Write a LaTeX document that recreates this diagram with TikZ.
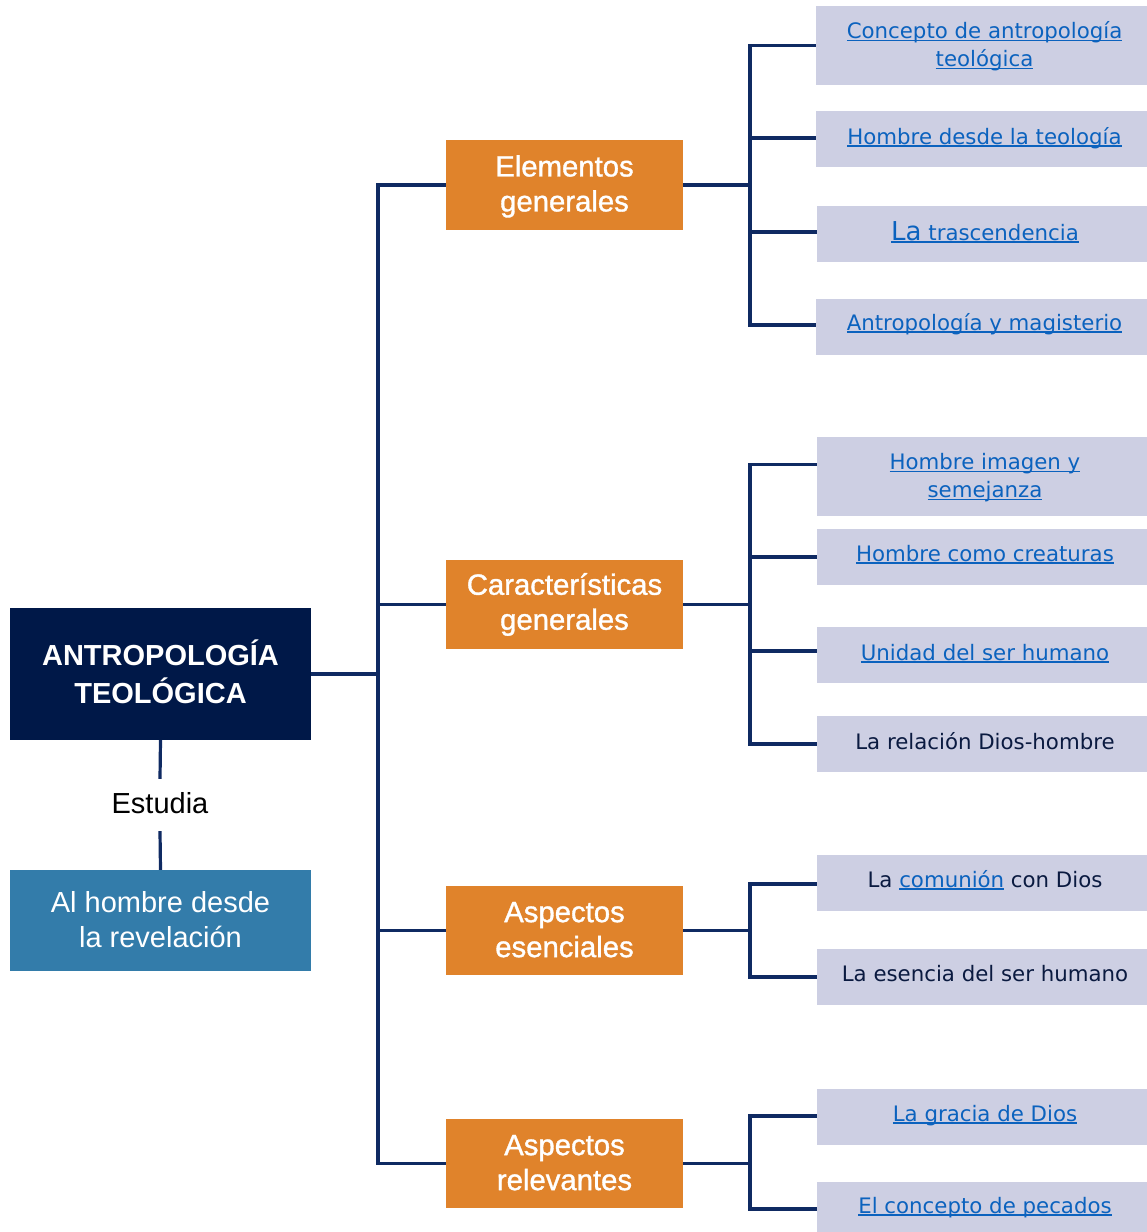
\documentclass[tikz,border=0pt]{standalone}
\usepackage{fontspec}
\setmainfont{Liberation Sans}
\newfontfamily\medf[FakeBold=1.2]{Liberation Sans}
\newfontfamily\boldf{Liberation Sans Bold}
\newfontfamily\verd{DejaVu Sans}
\definecolor{navy}{HTML}{001848}
\definecolor{linec}{HTML}{0F2A62}
\definecolor{orangeb}{HTML}{E0832B}
\definecolor{blueb}{HTML}{337CAA}
\definecolor{lav}{HTML}{CDCFE3}
\definecolor{linkc}{HTML}{0B62BE}
\definecolor{inkc}{HTML}{0A1A40}
\newcommand\lk[1]{{\color{linkc}\setbox0\hbox{#1}\rlap{\rule[-2.6pt]{\wd0}{1.3pt}}\box0}}
\newcommand\rowt[1]{\mbox{\kern6pt #1}}
\newcommand\upd[1]{\rule[-#1]{0pt}{#1}}
\newcommand\dnd[1]{\rule{0pt}{#1}}
\tikzset{
  conn/.style={draw=linec,line width=3.2pt},
  rootbox/.style={fill=navy,text=white,inner sep=0pt,minimum width=301pt,minimum height=132pt,align=center,font=\boldf\fontsize{29}{38}\selectfont},
  studybox/.style={fill=blueb,text=white,inner sep=0pt,minimum width=301pt,minimum height=101pt,align=center,font=\fontsize{29}{35}\selectfont},
  midbox/.style={fill=orangeb,text=white,inner sep=0pt,minimum width=237pt,minimum height=89.5pt,align=center,font=\medf\fontsize{29.3}{35}\selectfont},
  leafbox/.style={fill=lav,text=inkc,inner sep=0pt,minimum width=330pt,align=center,font=\verd\fontsize{21.3}{28}\selectfont},
  base/.style={text height=20pt+#1pt,text depth=20pt-#1pt},
  plain/.style={inner sep=0pt,minimum height=52pt,font=\fontsize{29}{35}\selectfont,text=black}
}
\begin{document}
\begin{tikzpicture}[x=1pt,y=-1pt]
\useasboundingbox (0,0) rectangle (1147,1232);
\node[rootbox] (root) at (160.5,674) {ANTROPOLOGÍA\\TEOLÓGICA\upd{4pt}};
\node[plain] (est) at (160,805) {Estudia\upd{4pt}};
\node[studybox] (study) at (160.5,920.5) {Al hombre desde\\la revelación\upd{2pt}};
\node[midbox] (m1) at (564.5,185) {\dnd{24pt}Elementos\\generales};
\node[midbox] (m2) at (564.5,604.5) {Características\\generales};
\node[midbox] (m3) at (564.5,930.5) {Aspectos\\esenciales\upd{2pt}};
\node[midbox] (m4) at (564.5,1163.5) {Aspectos\\relevantes\upd{2pt}};
\node[leafbox,minimum width=331pt,minimum height=79pt] (a1) at (981.5,45.5) {\rowt{\dnd{19pt}\lk{Concepto de antropología}}\\\rowt{\lk{teológica}}};
\node[leafbox,minimum width=331pt,minimum height=56pt,base=5] (a2) at (981.5,139) {\rowt{\lk{Hombre desde la teología}}};
\node[leafbox,minimum height=56pt,base=6] (a3) at (982,234) {\rowt{\lk{{\fontsize{26}{28}\selectfont La} trascendencia}}};
\node[leafbox,minimum width=331pt,minimum height=56pt,base=3] (a4) at (981.5,327) {\rowt{\lk{Antropología y magisterio}}};
\node[leafbox,minimum height=79pt] (b1) at (982,476.5) {\rowt{\dnd{19pt}\lk{Hombre imagen y}}\\\rowt{\lk{semejanza}}};
\node[leafbox,minimum height=56pt,base=4] (b2) at (982,557) {\rowt{\lk{Hombre como creaturas}}};
\node[leafbox,minimum height=56pt,base=5] (b3) at (982,655) {\rowt{\lk{Unidad del ser humano}}};
\node[leafbox,minimum height=56pt,base=5] (b4) at (982,744) {\rowt{La relación Dios-hombre}};
\node[leafbox,minimum height=56pt,base=4] (c1) at (982,883) {\rowt{La \lk{comunión} con Dios}};
\node[leafbox,minimum height=56pt,base=4] (c2) at (982,977) {\rowt{La esencia del ser humano}};
\node[leafbox,minimum height=56pt,base=4] (d1) at (982,1117) {\rowt{\lk{La gracia de Dios}}};
\node[leafbox,minimum height=50pt,base=6] (d2) at (982,1207) {\rowt{\lk{El concepto de pecados}}};
\coordinate (tr) at (378,674);
\coordinate (j1) at (750,185);
\coordinate (j2) at (750,604.5);
\coordinate (j3) at (750,930.5);
\coordinate (j4) at (750,1163.5);
\draw[conn] (root.east) -- (tr);
\draw[conn] (root.south) -- (est.north);
\draw[conn] (est.south) -- (study.north);
\draw[conn] (m1.west) -| (tr);
\draw[conn] (m2.west) -| (tr);
\draw[conn] (m3.west) -| (tr);
\draw[conn] (m4.west) -| (tr);
\draw[conn] (m1.east) -- (j1);
\draw[conn] (m2.east) -- (j2);
\draw[conn] (m3.east) -- (j3);
\draw[conn] (m4.east) -- (j4);
\draw[conn] (j1) |- (a1.west);
\draw[conn] (j1) |- ([yshift=1pt]a2.west);
\draw[conn] (j1) |- ([yshift=2pt]a3.west);
\draw[conn] (j1) |- ([yshift=2pt]a4.west);
\draw[conn] (j2) |- ([yshift=12pt]b1.west);
\draw[conn] (j2) |- (b2.west);
\draw[conn] (j2) |- ([yshift=4pt]b3.west);
\draw[conn] (j2) |- (b4.west);
\draw[conn] (j3) |- ([yshift=-1pt]c1.west);
\draw[conn] (j3) |- (c2.west);
\draw[conn] (j4) |- ([yshift=1pt]d1.west);
\draw[conn] (j4) |- ([yshift=-2pt]d2.west);
\end{tikzpicture}
\end{document}
